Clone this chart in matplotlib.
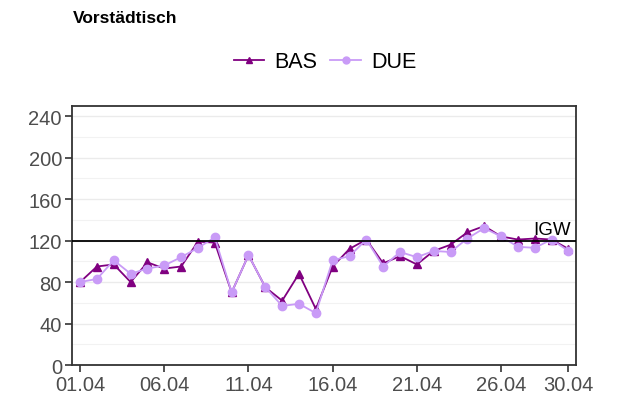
import matplotlib.pyplot as plt
from matplotlib.lines import Line2D
from matplotlib.ticker import MultipleLocator

plt.rcParams['font.family'] = ['Liberation Sans', 'DejaVu Sans']

# Tageswerte April, vorstädtische Messstellen
days = list(range(1, 31))
bas = [80, 95, 97, 80, 99, 93, 95, 119, 118, 70,
       106, 75, 62, 88, 54, 95, 112, 121, 98, 105,
       97, 110, 116, 128, 134, 124, 121, 122, 121, 112]
due = [80, 83, 101, 88, 93, 96, 104, 113, 123, 70,
       106, 75, 57, 59, 50, 101, 105, 121, 95, 109,
       104, 110, 109, 122, 132, 124, 114, 113, 121, 110]
tick_days = [1, 6, 11, 16, 21, 26, 30]
tick_labels = ['01.04', '06.04', '11.04', '16.04', '21.04', '26.04', '30.04']
igw = 120

c_bas = '#800080'
c_due = '#C99BF7'

fig = plt.figure(figsize=(6.17, 4.06), dpi=100)
ax = fig.add_axes([0.1162, 0.0985, 0.8173, 0.6385])

ax.plot(days, bas, color=c_bas, lw=1.3, marker='^', ms=6, zorder=3)
ax.plot(days, due, color=c_due, lw=1.3, marker='o', ms=6, zorder=4)

ax.axhline(igw, color='black', lw=1.3, zorder=5)
ax.text(30.15, igw + 2.5, 'IGW', ha='right', va='bottom', fontsize=13.5, color='black')

ax.set_xlim(0.5, 30.45)
ax.set_ylim(0, 250)
ax.set_xticks(tick_days)
ax.set_xticklabels(tick_labels)
ax.yaxis.set_major_locator(MultipleLocator(40))
ax.yaxis.set_minor_locator(MultipleLocator(20))

ax.grid(axis='y', which='major', color='#EBEBEB', lw=1.0)
ax.grid(axis='y', which='minor', color='#F2F2F2', lw=0.8)
ax.set_axisbelow(True)

for s in ax.spines.values():
    s.set_color('#333333')
    s.set_linewidth(1.3)

ax.tick_params(axis='both', which='major', labelsize=14.5, labelcolor='#4D4D4D',
               color='#333333', length=5, width=1.2, pad=2)
ax.tick_params(axis='y', which='minor', length=0)

handles = [Line2D([], [], color=c_bas, lw=1.3, marker='^', ms=5),
           Line2D([], [], color=c_due, lw=1.3, marker='o', ms=5)]
fig.legend(handles, ['BAS', 'DUE'], loc='center', bbox_to_anchor=(0.527, 0.845),
           ncol=2, frameon=False, fontsize=15.5, handlelength=1.4,
           handletextpad=0.5, columnspacing=0.6)

fig.text(0.118, 0.955, 'Vorstädtisch', fontsize=12.5, fontweight='bold',
         ha='left', va='center')

fig.savefig('out.png', dpi=100)
